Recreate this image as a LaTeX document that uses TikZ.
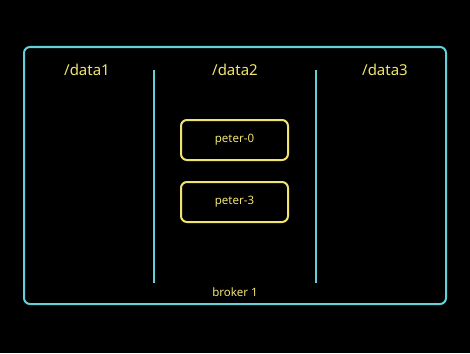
\documentclass[tikz,border=0pt]{standalone}
\usepackage{fontspec}
\setmainfont{Noto Sans}
\definecolor{cyanline}{RGB}{100,208,218}
\definecolor{ylw}{RGB}{240,228,110}
\begin{document}
\begin{tikzpicture}[x=1pt,y=-1pt,
  lbl/.style={text=ylw,font=\fontsize{15}{18}\selectfont},
  small/.style={text=ylw,font=\fontsize{11.5}{14}\selectfont},
  pbox/.style={draw=ylw,line width=2pt,rounded corners=6pt,minimum width=107pt,minimum height=40pt,text=ylw,font=\fontsize{11.5}{14}\selectfont},
  divider/.style={draw=cyanline,line width=1.6pt}]
\fill[black] (0,0) rectangle (470,353);
\useasboundingbox (0,0) rectangle (470,353);
\draw[cyanline,line width=2pt,rounded corners=6pt] (24,47) rectangle (446,304);
\coordinate (d1t) at (154,70); \coordinate (d1b) at (154,283);
\coordinate (d2t) at (316,70); \coordinate (d2b) at (316,283);
\draw[divider] (d1t) -- (d1b);
\draw[divider] (d2t) -- (d2b);
\node[lbl] (data1) at (87,70) {/data1};
\node[lbl] (data2) at (235,70) {/data2};
\node[lbl] (data3) at (385,70) {/data3};
\node[pbox] (p0) at (234.5,140) {peter-0};
\node[pbox] (p3) at (234.5,202) {peter-3};
\node[small] (broker) at (235,292) {broker 1};
\end{tikzpicture}
\end{document}
